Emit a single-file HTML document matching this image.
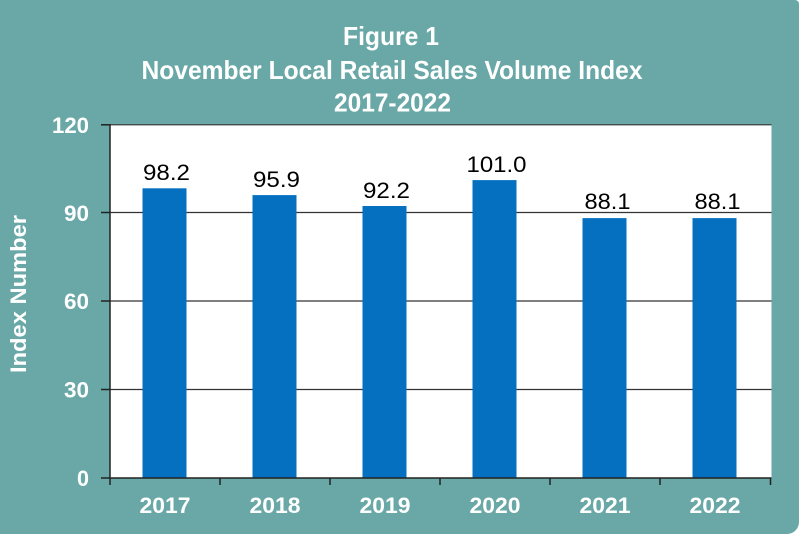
<!DOCTYPE html>
<html>
<head>
<meta charset="utf-8">
<style>
html,body{margin:0;padding:0;background:#ffffff;}
body{width:800px;height:535px;overflow:hidden;}
.frame{position:absolute;left:0;top:0;width:799px;height:534px;background:#69a8a7;border-radius:0 4px 12px 0;}
svg{position:absolute;left:0;top:0;}
</style>
</head>
<body>
<div class="frame"></div>
<svg width="800" height="535" viewBox="0 0 800 535" xmlns="http://www.w3.org/2000/svg" font-family="Liberation Sans, Arial, sans-serif">
  <!-- Title -->
  <g fill="#ffffff" font-weight="bold" font-size="26" text-anchor="middle">
    <text x="391" y="45" textLength="96" lengthAdjust="spacingAndGlyphs">Figure 1</text>
    <text x="392" y="79" textLength="501" lengthAdjust="spacingAndGlyphs">November Local Retail Sales Volume Index</text>
    <text x="392.5" y="111.5" textLength="117" lengthAdjust="spacingAndGlyphs">2017-2022</text>
  </g>

  <!-- Plot area -->
  <rect x="110" y="124.5" width="661.5" height="353.5" fill="#ffffff"/>

  <!-- Gridlines -->
  <g stroke="#333333" stroke-width="1.2">
    <line x1="110" y1="389.5" x2="771.5" y2="389.5"/>
    <line x1="110" y1="301" x2="771.5" y2="301"/>
    <line x1="110" y1="212.5" x2="771.5" y2="212.5"/>
    <line x1="110" y1="124.8" x2="771.5" y2="124.8"/>
  </g>

  <!-- Bars -->
  <g fill="#0570c0">
    <rect x="142.5" y="188.3" width="44" height="289.7"/>
    <rect x="252.5" y="195.1" width="44" height="282.9"/>
    <rect x="362.5" y="206.0" width="44" height="272.0"/>
    <rect x="472.5" y="180.1" width="44" height="297.9"/>
    <rect x="582.5" y="218.1" width="44" height="259.9"/>
    <rect x="692.5" y="218.1" width="44" height="259.9"/>
  </g>

  <!-- Axes -->
  <g stroke="#222222" stroke-width="1.5" fill="none">
    <line x1="110" y1="124" x2="110" y2="478.5"/>
    <line x1="101" y1="478" x2="771.5" y2="478"/>
    <line x1="101" y1="389.5" x2="110" y2="389.5"/>
    <line x1="101" y1="301" x2="110" y2="301"/>
    <line x1="101" y1="212.5" x2="110" y2="212.5"/>
    <line x1="101" y1="124.8" x2="110" y2="124.8"/>
    <line x1="110" y1="478" x2="110" y2="485"/>
    <line x1="220" y1="478" x2="220" y2="485"/>
    <line x1="330" y1="478" x2="330" y2="485"/>
    <line x1="440" y1="478" x2="440" y2="485"/>
    <line x1="550" y1="478" x2="550" y2="485"/>
    <line x1="660" y1="478" x2="660" y2="485"/>
    <line x1="770.5" y1="478" x2="770.5" y2="485"/>
  </g>

  <!-- Y tick labels -->
  <g fill="#ffffff" font-weight="bold" font-size="22" text-anchor="end">
    <text x="89" y="486" textLength="12" lengthAdjust="spacingAndGlyphs">0</text>
    <text x="89" y="397.5" textLength="25" lengthAdjust="spacingAndGlyphs">30</text>
    <text x="89" y="309" textLength="25" lengthAdjust="spacingAndGlyphs">60</text>
    <text x="89" y="221" textLength="25" lengthAdjust="spacingAndGlyphs">90</text>
    <text x="89" y="133" textLength="37" lengthAdjust="spacingAndGlyphs">120</text>
  </g>

  <!-- Y axis title -->
  <text transform="translate(26,294) rotate(-90)" fill="#ffffff" font-weight="bold" font-size="22" text-anchor="middle" textLength="158" lengthAdjust="spacingAndGlyphs">Index Number</text>

  <!-- X labels -->
  <g fill="#ffffff" font-weight="bold" font-size="22" text-anchor="middle">
    <text x="165" y="513" textLength="51" lengthAdjust="spacingAndGlyphs">2017</text>
    <text x="275" y="513" textLength="51" lengthAdjust="spacingAndGlyphs">2018</text>
    <text x="385" y="513" textLength="51" lengthAdjust="spacingAndGlyphs">2019</text>
    <text x="495" y="513" textLength="51" lengthAdjust="spacingAndGlyphs">2020</text>
    <text x="605" y="513" textLength="51" lengthAdjust="spacingAndGlyphs">2021</text>
    <text x="715" y="513" textLength="51" lengthAdjust="spacingAndGlyphs">2022</text>
  </g>

  <!-- Data labels -->
  <g fill="#000000" font-size="22" text-anchor="middle">
    <text x="166.5" y="180" textLength="47" lengthAdjust="spacingAndGlyphs">98.2</text>
    <text x="276.5" y="187" textLength="47" lengthAdjust="spacingAndGlyphs">95.9</text>
    <text x="386.5" y="198" textLength="47" lengthAdjust="spacingAndGlyphs">92.2</text>
    <text x="496.5" y="172" textLength="60" lengthAdjust="spacingAndGlyphs">101.0</text>
    <text x="607.5" y="209" textLength="46" lengthAdjust="spacingAndGlyphs">88.1</text>
    <text x="717.5" y="209" textLength="46" lengthAdjust="spacingAndGlyphs">88.1</text>
  </g>
</svg>
</body>
</html>
